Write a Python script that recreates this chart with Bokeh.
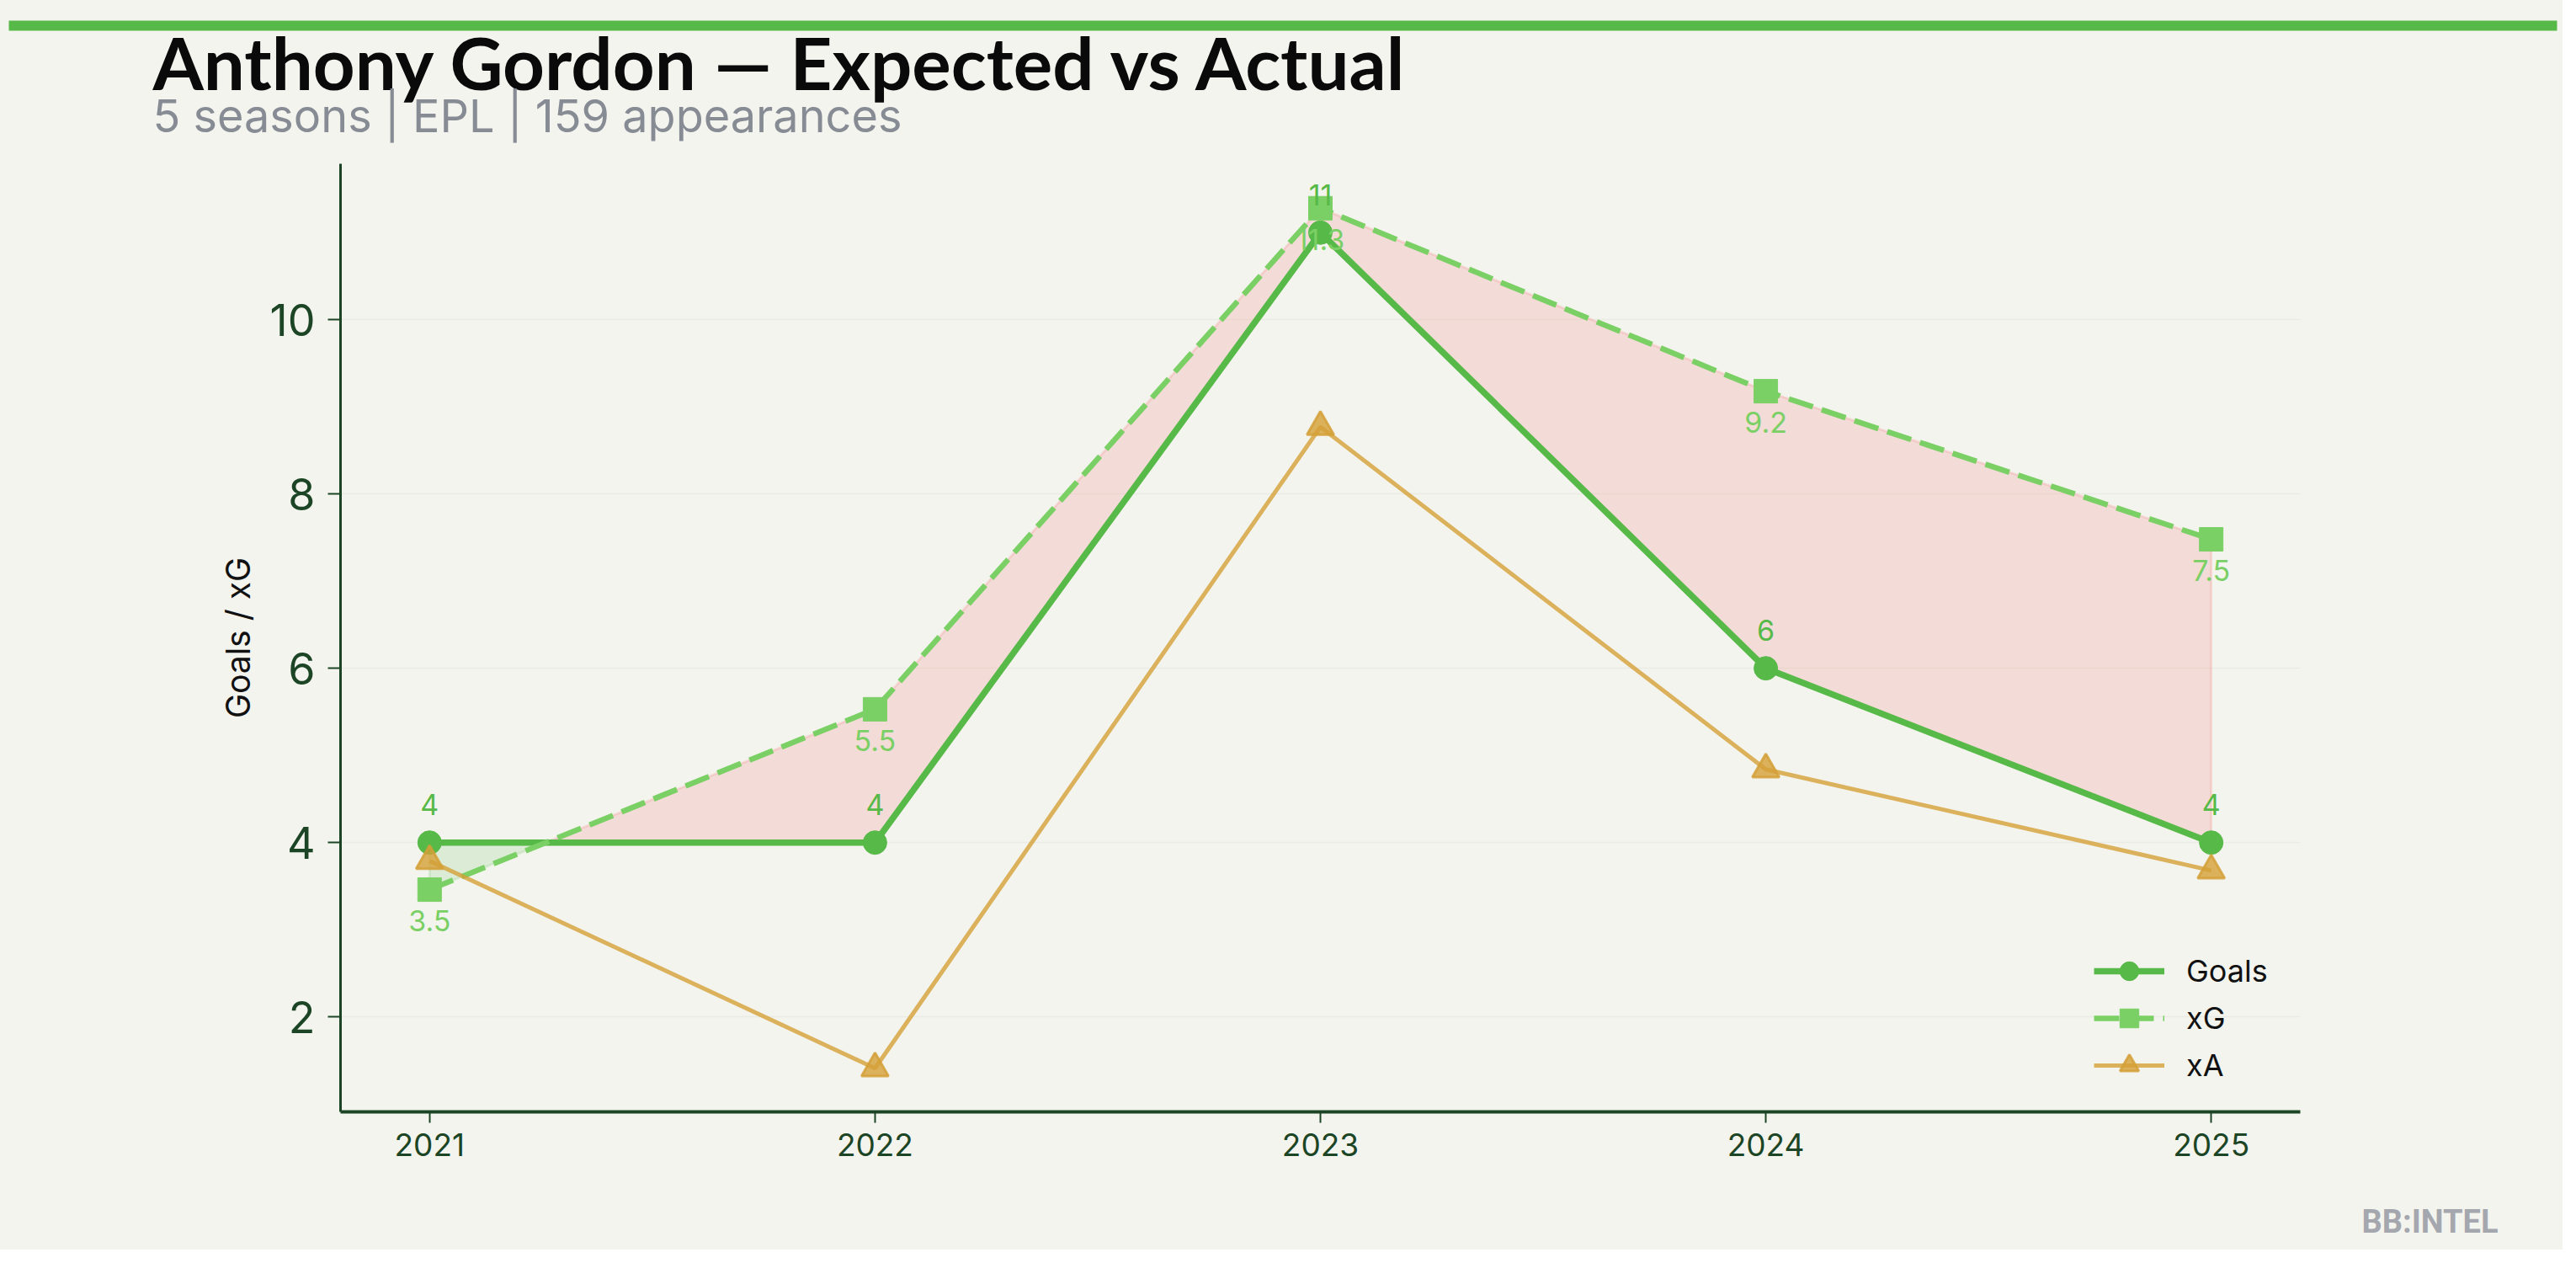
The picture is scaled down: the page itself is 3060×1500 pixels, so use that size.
from bokeh.plotting import figure
from bokeh.layouts import column
from bokeh.models import Range1d, FixedTicker, Legend, LegendItem, ColumnDataSource
from bokeh.core.properties import value
from bokeh.embed import file_html
from bokeh.resources import INLINE

# ---- data ----
seasons = [2021, 2022, 2023, 2024, 2025]
goals = [4, 4, 11, 6, 4]
xg = [3.46, 5.53, 11.28, 9.18, 7.48]
xa = [3.79, 1.41, 8.77, 4.84, 3.68]
y_ticks = [2, 4, 6, 8, 10]

title_text = "Anthony Gordon \u2014 Expected vs Actual"
subtitle_text = "5 seasons | EPL | 159 appearances"
ylabel_text = "Goals / xG"
brand_text = "BB:INTEL"

# ---- style ----
BG = "#F4F4EF"
AX = "#1B4524"
C_GOALS = "#57B947"
C_XG = "#7BD065"
C_XA = "#D4A037"
C_OVER = "#EF5350"   # xG above goals
C_UNDER = "#57B947"  # goals above xG

W = 3044
H_HEAD, H_MAIN, H_FOOT = 170, 1250, 64


def blank(h):
    f = figure(width=W, height=h, output_backend="svg", toolbar_location=None,
               x_range=Range1d(0, W), y_range=Range1d(h, 0),
               x_axis_type=None, y_axis_type=None,
               background_fill_color=BG, border_fill_color=BG,
               min_border_left=0, min_border_right=0,
               min_border_top=0, min_border_bottom=0)
    f.outline_line_color = None
    f.grid.visible = False
    f.frame_align = False
    return f


# ---- header ----
head = blank(H_HEAD)
head.quad(left=[10], right=[3037], top=[24], bottom=[36],
          fill_color=C_GOALS, line_color=None)
head.text(x=[181], y=[73], text=[title_text], text_font=value("Lato"),
          text_font_style="bold", text_font_size="87px", text_color="#0A0A0A",
          text_baseline="alphabetic", text_align="left")
head.text(x=[181], y=[137], text=[subtitle_text], text_font=value("Inter"),
          text_font_size="54px", text_color="#868B94",
          text_baseline="alphabetic", text_align="left")

# ---- main chart ----
p = figure(width=W, height=H_MAIN, output_backend="svg", toolbar_location=None,
           x_range=Range1d(2020.8, 2025.2), y_range=Range1d(0.91, 11.79),
           background_fill_color=BG, border_fill_color=BG,
           min_border_left=404, min_border_right=W - 2732,
           min_border_top=194 - H_HEAD, min_border_bottom=H_HEAD + H_MAIN - 1320)
p.outline_line_color = None
p.frame_align = False

# fill between goals and xG (with crossings)
pts = []
for i in range(len(seasons) - 1):
    pts.append((seasons[i], goals[i], xg[i]))
    d0 = xg[i] - goals[i]
    d1 = xg[i + 1] - goals[i + 1]
    if d0 * d1 < 0:
        t = d0 / (d0 - d1)
        xc = seasons[i] + t * (seasons[i + 1] - seasons[i])
        yc = goals[i] + t * (goals[i + 1] - goals[i])
        pts.append((xc, yc, yc))
pts.append((seasons[-1], goals[-1], xg[-1]))

groups = []
for j in range(len(pts) - 1):
    a, b = pts[j], pts[j + 1]
    mid = ((a[2] - a[1]) + (b[2] - b[1])) / 2
    s = 1 if mid > 0 else -1
    if groups and groups[-1][0] == s:
        groups[-1][1].append(b)
    else:
        groups.append((s, [a, b]))

for s, g in groups:
    xs = [q[0] for q in g] + [q[0] for q in reversed(g)]
    ys = [q[2] for q in g] + [q[1] for q in reversed(g)]
    col = C_OVER if s > 0 else C_UNDER
    p.patch(xs, ys, fill_color=col, fill_alpha=0.15, line_color=col,
            line_alpha=0.15, line_width=3)

# series
r_gl = p.line(seasons, goals, line_color=C_GOALS, line_width=7.5)
r_gs = p.scatter(seasons, goals, marker="circle", size=28, fill_color=C_GOALS,
                 line_color=C_GOALS)
r_xl = p.line(seasons, xg, line_color=C_XG, line_width=6.5, line_dash="30 11")
r_xs = p.scatter(seasons, xg, marker="square", size=28, fill_color=C_XG,
                 line_color=C_XG)
r_al = p.line(seasons, xa, line_color=C_XA, line_width=5, line_alpha=0.8)
r_as = p.scatter(seasons, xa, marker="triangle", size=32, fill_color=C_XA,
                 fill_alpha=0.8, line_color=C_XA, line_alpha=0.85, line_width=3)

# value labels
src_g = ColumnDataSource(dict(x=seasons, y=goals, t=[str(int(v)) for v in goals]))
src_x = ColumnDataSource(dict(x=seasons, y=xg, t=[f"{v:.1f}" for v in xg]))
p.text(x="x", y="y", text="t", source=src_g, text_color=C_GOALS,
       text_font=value("Inter"), text_font_size="34px", text_align="center",
       text_baseline="middle", y_offset=-45)
p.text(x="x", y="y", text="t", source=src_x, text_color=C_XG,
       text_font=value("Inter"), text_font_size="34px", text_align="center",
       text_baseline="middle", y_offset=37)

# axes
p.xaxis.ticker = FixedTicker(ticks=seasons)
p.yaxis.ticker = FixedTicker(ticks=y_ticks)
for ax in (p.xaxis[0], p.yaxis[0]):
    ax.axis_line_color = AX
    ax.major_tick_line_color = AX
    ax.major_tick_line_width = 2
    ax.minor_tick_line_color = None
    ax.major_tick_in = 0
    ax.major_label_text_color = AX
    ax.major_label_text_font = "Inter"
p.xaxis.axis_line_width = 4
p.yaxis.axis_line_width = 3
p.xaxis.major_tick_out = 13
p.yaxis.major_tick_out = 15
p.xaxis.major_label_text_font_size = "37px"
p.yaxis.major_label_text_font_size = "52px"
p.xaxis.major_label_standoff = 12
p.yaxis.major_label_standoff = 15
p.yaxis.axis_label = ylabel_text
p.yaxis.axis_label_text_font = "Inter"
p.yaxis.axis_label_text_font_style = "normal"
p.yaxis.axis_label_text_font_size = "39px"
p.yaxis.axis_label_text_color = "#111111"
p.yaxis.axis_label_standoff = 12

p.xgrid.grid_line_color = None
p.ygrid.grid_line_color = "#EBEBE5"
p.ygrid.grid_line_width = 1.5

# legend
legend = Legend(items=[
    LegendItem(label="Goals", renderers=[r_gl, r_gs]),
    LegendItem(label="xG", renderers=[r_xl, r_xs]),
    LegendItem(label="xA", renderers=[r_al, r_as]),
], location=(2083, 27), orientation="vertical",
    glyph_width=84, glyph_height=56, label_height=56, spacing=0,
    padding=0, margin=0, label_standoff=26,
    label_text_font="Inter", label_text_font_size="36px",
    label_text_color="#111111",
    background_fill_alpha=0, border_line_color=None)
p.add_layout(legend)

# ---- footer ----
foot = blank(H_FOOT)
foot.text(x=[2967], y=[1461 - H_HEAD - H_MAIN - 11], text=[brand_text],
          text_font=value("Roboto"), text_font_style="bold",
          text_font_size="38px", text_color="#A4A7AD",
          text_align="right", text_baseline="alphabetic")

layout = column(head, p, foot, spacing=0)
layout.styles = {"background-color": BG}
open("out.html", "w").write(file_html(layout, INLINE))
